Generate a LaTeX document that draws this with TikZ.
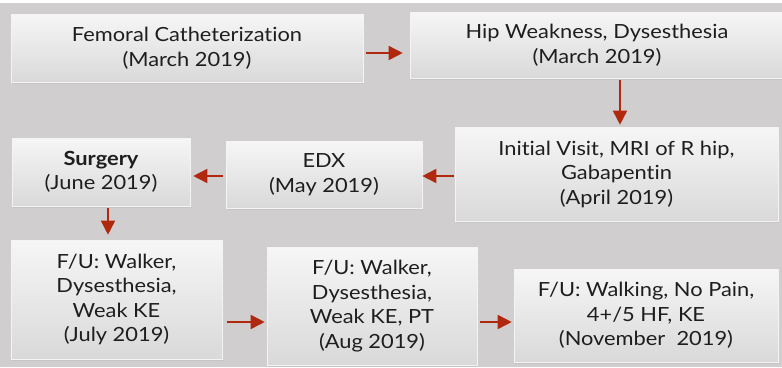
\documentclass[tikz,border=0pt]{standalone}
\usepackage{fontspec}
\setmainfont{Lato}[FakeStretch=1.12, Ligatures={NoCommon}]
\usetikzlibrary{arrows.meta,shadows}
\definecolor{bg}{RGB}{209,206,207}
\definecolor{arr}{RGB}{176,40,14}
\definecolor{boxtop}{RGB}{246,246,246}
\definecolor{boxbot}{RGB}{218,217,217}
\definecolor{txt}{RGB}{30,30,30}
\begin{document}
\begin{tikzpicture}[x=1pt,y=-1pt,
  box/.style={rectangle, top color=boxtop, bottom color=boxbot, draw=white!70!boxbot, line width=0.6pt,
    align=center, inner sep=0pt, text=txt, font=\fontsize{19.5}{24.5}\selectfont,
    drop shadow={opacity=0.12, shadow xshift=1pt, shadow yshift=-1.5pt}},
  conn/.style={draw=arr, line width=1.6pt, -{Triangle[length=14pt,width=14pt]}}]
\useasboundingbox[fill=bg] (0,0) rectangle (782,367);
\fill[white] (0,0) rectangle (782,2.5);
\node[box, minimum width=352pt, minimum height=68pt] (a) at (187,48) {Femoral Catheterization\\(March 2019)};
\node[box, minimum width=374pt, minimum height=66pt] (b) at (597,45) {Hip Weakness, Dysesthesia\\(March 2019)};
\node[box, minimum width=323pt, minimum height=94pt] (c) at (616.5,174) {Initial Visit, MRI of R hip,\\Gabapentin\\(April 2019)};
\node[box, minimum width=196pt, minimum height=67pt] (d) at (324,174.5) {EDX\\(May 2019)};
\node[box, minimum width=178pt, minimum height=68pt] (e) at (101,172) {\textbf{Surgery}\\(June 2019)};
\node[box, minimum width=211pt, minimum height=119pt] (f) at (116.5,299.5) {F/U: Walker,\\Dysesthesia,\\Weak KE\\(July 2019)};
\node[box, minimum width=210pt, minimum height=118pt] (g) at (372,306) {F/U: Walker,\\Dysesthesia,\\Weak KE, PT\\(Aug 2019)};
\node[box, minimum width=264pt, minimum height=93pt] (h) at (646,315.5) {F/U: Walking, No Pain,\\4+/5 HF, KE\\(November~ 2019)};
\draw[conn] ([shift={(3,5)}]a.east) -- ([shift={(-7,8)}]b.west);
\draw[conn] ([shift={(23,2)}]b.south) -- ([shift={(3.5,-2)}]c.north);
\draw[conn] ([shift={(-1,2)}]c.west) -- ([shift={(0,1.5)}]d.east);
\draw[conn] ([shift={(-3,1.5)}]d.west) -- ([shift={(3,4)}]e.east);
\draw[conn] ([shift={(7,2)}]e.south) -- ([shift={(-8.5,-5)}]f.north);
\draw[conn] ([shift={(5,22.5)}]f.east) -- ([shift={(-2,16)}]g.west);
\draw[conn] ([shift={(3,16)}]g.east) -- ([shift={(-2,6.5)}]h.west);
\end{tikzpicture}
\end{document}
